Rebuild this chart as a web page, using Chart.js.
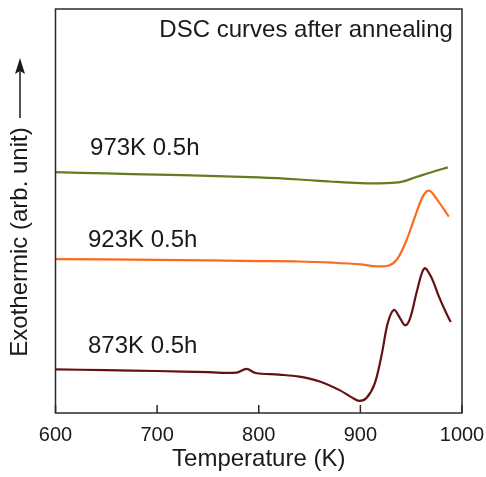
<!DOCTYPE html>
<html>
<head>
<meta charset="utf-8">
<script src="https://cdn.jsdelivr.net/npm/chart.js@4.4.0/dist/chart.umd.min.js"></script>
<style>
  html, body { margin: 0; padding: 0; background: #fff; }
  #wrap { width: 486px; height: 477px; }
</style>
</head>
<body>
<div id="wrap"><canvas id="dsc"></canvas></div>
<script>
// ---- data (temperature in K, heat flow in arbitrary units) ----
var temps973 = [600, 650, 700, 750, 800, 840, 870, 900, 925, 940, 955, 970, 986];
var heat973  = [59.6, 59.3, 59.0, 58.7, 58.3, 57.8, 57.3, 56.9, 56.9, 57.2, 58.4, 59.6, 60.8];

var temps923 = [600, 700, 800, 840, 873, 900, 916, 928, 936, 945, 955, 962, 968, 975, 982, 987];
var heat923  = [38.1, 37.9, 37.6, 37.5, 37.2, 36.8, 36.3, 36.5, 38.0, 42.5, 49.5, 53.8, 55.0, 53.0, 50.5, 48.6];

var temps873 = [600, 650, 700, 750, 778, 788, 797, 820, 840, 860, 880, 892, 899, 906, 914, 921, 927, 933, 939, 944, 949, 956, 963, 970, 977, 984, 989];
var heat873  = [10.8, 10.6, 10.4, 10.1, 10.0, 10.9, 9.9, 9.5, 9.0, 7.8, 5.6, 3.8, 3.0, 3.7, 7.2, 14.5, 22.3, 25.5, 23.5, 21.7, 23.5, 30.5, 35.8, 33.5, 29.0, 25.0, 22.5];

var xTicks = [600, 700, 800, 900, 1000];

// labels: [text, temperature, heat]
var curveLabels = [
  ["973K 0.5h", 634, 65.6],
  ["923K 0.5h", 632, 42.8],
  ["873K 0.5h", 632, 16.4]
];

function pts(xs, ys) {
  return xs.map(function (x, i) { return { x: x, y: ys[i] }; });
}

var FONT = "'Liberation Sans', Arial, sans-serif";
var INK = "#1a1a1a";

//=============================================== decorations ========================================
var decor = {
  id: 'decor',
  afterDraw: function (chart) {
    var c = chart.ctx, a = chart.chartArea;
    var xs = chart.scales.x, ys = chart.scales.y;
    c.save();
    // frame
    c.strokeStyle = "#2a2a2a";
    c.lineWidth = 1.5;
    c.strokeRect(a.left, a.top, a.right - a.left, a.bottom - a.top);
    // inward ticks on bottom axis
    xTicks.forEach(function (t) {
      var px = xs.getPixelForValue(t);
      c.beginPath();
      c.moveTo(px, a.bottom);
      c.lineTo(px, a.bottom - 8);
      c.stroke();
    });
    // curve labels
    c.fillStyle = INK;
    c.font = "24px " + FONT;
    c.textBaseline = "middle";
    c.textAlign = "left";
    curveLabels.forEach(function (l) {
      c.fillText(l[0], xs.getPixelForValue(l[1]), ys.getPixelForValue(l[2]));
    });
    // title inside the frame
    c.textAlign = "right";
    c.fillText("DSC curves after annealing", xs.getPixelForValue(991), ys.getPixelForValue(94.8));
    // y axis title with arrow
    c.translate(20, 242);
    c.rotate(-Math.PI / 2);
    c.textAlign = "center";
    c.fillText("Exothermic (arb. unit)", 0, 0);
    c.strokeStyle = INK;
    c.lineWidth = 1.5;
    c.beginPath();
    c.moveTo(124, 0);
    c.lineTo(176, 0);
    c.stroke();
    c.beginPath();
    c.moveTo(184, 0);
    c.lineTo(168, -5);
    c.lineTo(171, 0);
    c.lineTo(168, 5);
    c.closePath();
    c.fillStyle = INK;
    c.fill();
    c.restore();
  }
};

function series(label, data, color) {
  return {
    label: label,
    data: data,
    borderColor: color,
    backgroundColor: color,
    borderWidth: 2.2,
    pointRadius: 0,
    fill: false,
    showLine: true,
    tension: 0.35
  };
}

var ctx1 = document.getElementById("dsc");
var dsc = new Chart(ctx1, {
  type: 'scatter',
  data: {
    datasets: [
      series("973K 0.5h", pts(temps973, heat973), "#627d1e"),
      series("923K 0.5h", pts(temps923, heat923), "#fb6a1f"),
      series("873K 0.5h", pts(temps873, heat873), "#661111")
    ]
  },
  options: {
    responsive: true,
    maintainAspectRatio: false,
    animation: false,
    layout: { padding: { left: 0, top: 9, right: 24, bottom: 0 } },
    plugins: {
      legend: { display: false },
      tooltip: { enabled: false }
    },
    scales: {
      x: {
        type: 'linear',
        min: 600,
        max: 1000,
        afterBuildTicks: function (s) { s.ticks = xTicks.map(function (v) { return { value: v }; }); },
        afterFit: function (s) { s.height = 64; s.paddingLeft = 0; s.paddingRight = 0; },
        grid: { display: false },
        border: { display: false },
        ticks: {
          color: INK,
          font: { family: FONT, size: 20 },
          padding: 2,
          maxRotation: 0,
          callback: function (v) { return String(v); }
        },
        title: {
          display: true,
          text: "Temperature (K)",
          color: INK,
          font: { family: FONT, size: 24 },
          padding: { top: 0, bottom: 3 }
        }
      },
      y: {
        type: 'linear',
        min: 0,
        max: 100,
        afterFit: function (s) { s.width = 55.5; },
        grid: { display: false },
        border: { display: false },
        ticks: { display: false }
      }
    }
  },
  plugins: [decor]
});
</script>
</body>
</html>
